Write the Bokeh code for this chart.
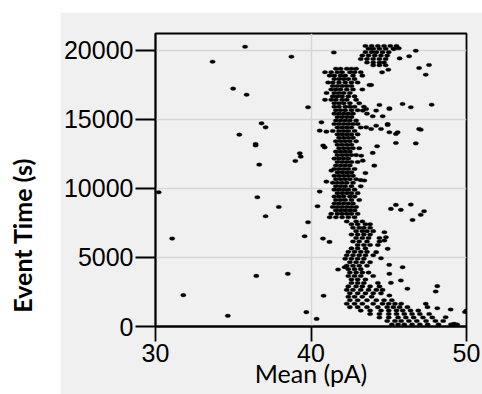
import math
from bokeh.plotting import figure
from bokeh.models import Range1d, FixedTicker, Label, Spacer
from bokeh.layouts import row, column
from bokeh.embed import file_html
from bokeh.resources import INLINE

# ---------------- data ----------------
x_ticks = [30, 40, 50]
y_ticks = [0, 5000, 10000, 15000, 20000]
x_label = "Mean (pA)"
y_label = "Event Time (s)"

# main column of events: (event time, [mean current values])
column_rows = [
    (18650, [41.6, 41.9, 42.3, 42.6, 42.9]),
    (18400, [40.9, 41.3, 41.7, 42.0, 42.5, 42.8, 43.2]),
    (18150, [41.2, 41.5, 41.9, 42.2, 42.7, 43.3]),
    (17900, [41.5, 41.8, 42.1, 42.4, 42.8]),
    (17650, [41.1, 41.4, 41.8, 42.2, 42.6, 43.0]),
    (17400, [41.4, 41.7, 42.0, 42.3, 42.6]),
    (17150, [41.3, 41.6, 41.9, 42.3, 42.7, 43.3]),
    (16900, [41.0, 41.5, 41.8, 42.1, 42.5]),
    (16650, [41.4, 41.7, 42.0, 42.4, 42.8]),
    (16400, [40.9, 41.3, 41.6, 42.0, 42.3, 42.9]),
    (16150, [41.5, 41.8, 42.1, 42.5, 43.1]),
    (15900, [41.5, 41.8, 42.2, 42.5, 42.8, 43.4]),
    (15650, [41.6, 41.9, 42.2, 42.6, 43.0]),
    (15400, [41.5, 41.8, 42.1, 42.4, 42.7, 43.6]),
    (15150, [41.7, 42.0, 42.3, 42.6]),
    (14900, [41.6, 41.9, 42.2, 42.5, 42.9]),
    (14650, [41.5, 41.8, 42.1, 42.4, 42.7, 43.0]),
    (14400, [41.7, 42.0, 42.3, 42.6, 43.2]),
    (14150, [41.4, 41.8, 42.1, 42.4, 42.8]),
    (13900, [41.7, 42.0, 42.3, 42.6, 43.0]),
    (13650, [41.8, 42.1, 42.4, 42.7]),
    (13400, [41.6, 41.9, 42.2, 42.5, 42.9]),
    (13150, [41.7, 42.0, 42.3, 42.6]),
    (12900, [41.8, 42.1, 42.4, 42.7, 43.1]),
    (12650, [41.6, 41.9, 42.2, 42.5]),
    (12400, [41.7, 42.0, 42.3, 42.6, 42.9]),
    (12150, [41.5, 41.8, 42.1, 42.4]),
    (11900, [41.7, 42.0, 42.3, 42.6, 43.0]),
    (11650, [41.6, 41.9, 42.2, 42.5]),
    (11400, [41.5, 41.8, 42.1, 42.4, 42.8]),
    (11150, [41.7, 42.0, 42.3, 42.6]),
    (10900, [41.5, 41.8, 42.1, 42.4, 42.7]),
    (10650, [41.6, 41.9, 42.2, 42.5, 42.9]),
    (10400, [41.4, 41.7, 42.0, 42.3, 42.7]),
    (10150, [41.6, 41.9, 42.2, 42.6, 43.2]),
    (9900, [41.5, 41.8, 42.1, 42.4, 42.8]),
    (9650, [41.7, 42.0, 42.3, 42.6, 43.0]),
    (9400, [41.5, 41.8, 42.1, 42.5, 42.8]),
    (9150, [41.6, 41.9, 42.2, 42.6, 43.1]),
    (8900, [41.5, 41.8, 42.1, 42.4, 42.7]),
    (8650, [41.4, 41.7, 42.0, 42.3, 42.6, 42.9]),
    (8400, [41.6, 41.9, 42.2, 42.5, 42.8]),
    (8150, [41.3, 41.7, 42.0, 42.3, 42.6, 43.0]),
    (7900, [41.2, 41.6, 42.0, 42.4, 42.8]),
]

# lower, drifting part of the trace
lower_rows = [
    (7600, [42.3, 42.9, 43.3]),
    (7400, [42.6, 43.0, 43.5, 43.8]),
    (7150, [42.7, 43.1, 43.4, 43.8]),
    (6900, [42.9, 43.3, 43.6, 44.0]),
    (6650, [42.6, 43.0, 43.4, 43.8]),
    (6400, [42.9, 43.3, 43.7, 44.4]),
    (6150, [42.7, 43.1, 43.6, 44.4]),
    (5900, [43.0, 43.4, 43.8, 44.3]),
    (5650, [42.6, 43.0, 43.5]),
    (5400, [42.4, 42.8, 43.2, 43.6]),
    (5150, [42.3, 42.7, 43.1, 43.5, 44.0]),
    (4900, [42.2, 42.6, 43.0, 43.4]),
    (4650, [42.5, 42.9, 43.3, 43.8]),
    (4400, [42.3, 42.7, 43.1, 43.6]),
    (4150, [42.4, 42.8, 43.2]),
    (3900, [42.5, 42.9, 43.3, 43.7]),
    (3650, [42.4, 42.8, 43.2, 44.0]),
    (3400, [42.6, 43.0, 43.5]),
    (3150, [42.6, 43.0, 43.4, 44.3]),
    (2900, [42.4, 42.9, 43.3, 43.8, 44.4]),
    (2650, [42.3, 42.7, 43.2, 43.7, 44.2, 44.6]),
    (2400, [42.5, 43.0, 43.5, 44.0, 44.5]),
    (2150, [42.4, 42.8, 43.3, 43.9]),
    (1900, [42.5, 43.0, 43.6, 44.2, 44.7, 45.2]),
    (1650, [42.3, 42.8, 43.3, 44.0, 44.6, 45.0, 45.4, 45.8]),
    (1400, [42.5, 43.0, 43.6, 44.3, 44.9, 45.3, 45.7, 46.2]),
    (1150, [43.2, 43.8, 44.5, 45.0, 45.5, 45.9, 46.4, 46.9]),
    (900, [43.8, 44.4, 45.0, 45.5, 46.0, 46.5, 47.0, 47.6]),
    (650, [44.4, 45.0, 45.6, 46.1, 46.6, 47.2, 47.8]),
    (400, [44.9, 45.4, 45.8, 46.3, 46.8, 47.4, 48.0, 48.5]),
    (150, [45.2, 45.6, 46.0, 46.5, 47.0, 47.5, 48.2, 49.0, 49.3]),
]

# cluster at the end of the recording
top_rows = [
    (20300, [43.5, 43.9, 44.3, 44.7, 45.1, 45.5]),
    (20100, [43.7, 44.0, 44.4, 44.8, 45.3]),
    (19850, [43.5, 43.9, 44.2, 44.6, 45.0]),
    (19600, [43.3, 43.7, 44.1, 44.5, 44.9]),
    (19350, [43.2, 43.6, 44.0, 44.4, 44.8]),
    (19100, [43.6, 44.0, 44.4, 44.7]),
    (18900, [44.0, 44.4, 44.8]),
]

# scattered single events
scatter_mean = [
    35.76, 33.67, 38.74, 41.47, 34.99, 35.86, 39.81, 36.82, 37.08, 35.39,
    36.44, 36.44, 39.28, 39.34, 38.99, 36.67, 30.21, 36.55, 37.93, 37.08,
    39.81, 31.07, 39.59, 40.77, 41.19, 36.48, 38.51, 31.79, 40.81, 34.65,
    39.70, 40.36, 50.26, 50.64, 50.00, 49.90,
    45.65, 45.34, 46.74, 45.70, 46.31, 46.95, 47.59, 47.38, 44.57, 44.97,
    43.76, 43.87, 44.40, 45.04, 45.89, 46.42, 47.76, 43.33, 43.55, 44.19,
    45.04, 43.97, 44.61, 44.93, 40.67, 40.56, 40.99, 40.78, 40.88,
    43.55, 43.87, 44.19, 44.50, 44.93, 45.04, 45.46, 45.57, 46.95, 47.06,
    45.46, 46.74, 44.25, 43.97, 43.23, 43.33, 44.07, 43.50, 43.20, 40.99,
    41.31, 40.56, 40.42, 43.43,
    45.14, 45.46, 45.78, 46.42, 47.27, 47.06, 46.53,
    44.72, 44.82, 44.72, 44.93, 44.19, 44.50, 41.74, 42.16, 45.89, 45.04,
    45.78, 45.14, 46.20, 45.04, 48.12, 48.02,
    47.38, 47.49, 48.12, 48.98, 48.66, 49.19, 49.40, 45.03,
]
scatter_time = [
    20240, 19160, 19520, 19830, 17210, 16770, 15860, 14700, 14410, 13880,
    13210, 13100, 12530, 12290, 11980, 11710, 9710, 9350, 8650, 7980,
    7540, 6360, 6530, 6360, 6120, 3660, 3810, 2270, 2220, 770,
    1040, 550, 14890, 3250, 1160, 1050,
    20130, 20080, 19950, 19400, 19550, 18700, 18920, 18220, 18390, 18580,
    17470, 17470, 16030, 15790, 16100, 15860, 16050, 15620, 15740, 15620,
    15740, 15210, 15210, 14650, 14770, 14170, 14100, 13090, 12960,
    14410, 14290, 14530, 14290, 14580, 14050, 13930, 14050, 14290, 14240,
    13280, 13250, 13040, 12560, 12360, 12000, 11640, 11100, 10590, 10480,
    11280, 9760, 8700, 10560,
    8510, 8800, 8440, 8820, 8340, 8080, 7710,
    6820, 6460, 6220, 5620, 5380, 4940, 4120, 4290, 4290, 3810,
    3330, 3160, 2730, 2240, 2920, 2530,
    1640, 1400, 1320, 1230, 670, 190, 140, 4460,
]

# ---------------- build point arrays ----------------
mean_pa = []
event_time = []
for rows in (column_rows, lower_rows, top_rows):
    for t, xs in rows:
        for xv in xs:
            mean_pa.append(xv)
            event_time.append(t)
mean_pa += scatter_mean
event_time += scatter_time

BG = "#f0f0f0"

# ---------------- main plot ----------------
p = figure(width=422, height=382, output_backend="svg", toolbar_location=None,
           title=None,
           x_range=Range1d(30, 50), y_range=Range1d(0, 21200),
           min_border_left=93, min_border_right=16, min_border_top=21,
           min_border_bottom=68)
p.background_fill_color = BG
p.border_fill_color = BG
p.outline_line_color = "black"
p.outline_line_width = 1.8

p.ellipse(x=mean_pa, y=event_time, width=5.5, height=3.6,
          width_units="screen", height_units="screen",
          fill_color="black", line_color="black", line_width=0.3)

for ax in (p.xaxis[0], p.yaxis[0]):
    ax.axis_line_color = "black"
    ax.axis_line_width = 1.8
    ax.major_tick_line_color = "black"
    ax.major_tick_line_width = 1.8
    ax.major_tick_in = 0
    ax.minor_tick_line_color = None
    ax.major_label_text_font = "Liberation Sans"
    ax.major_label_text_color = "black"

p.xaxis.ticker = FixedTicker(ticks=x_ticks)
p.yaxis.ticker = FixedTicker(ticks=y_ticks)
p.xaxis.major_tick_out = 15
p.yaxis.major_tick_out = 20
p.xaxis.major_label_text_font_size = "25px"
p.yaxis.major_label_text_font_size = "25px"
p.xaxis.major_label_standoff = 2
p.yaxis.major_label_standoff = 2

p.xaxis.axis_label = x_label
p.xaxis.axis_label_text_font = "Lato"
p.xaxis.axis_label_text_font_style = "normal"
p.xaxis.axis_label_text_font_size = "25px"
p.xaxis.axis_label_text_color = "black"
p.xaxis.axis_label_standoff = -7

p.xgrid.ticker = FixedTicker(ticks=x_ticks)
p.ygrid.ticker = FixedTicker(ticks=y_ticks)
p.grid.grid_line_color = "#d6d6d6"
p.grid.grid_line_width = 1.5

# ---------------- y label strip ----------------
lab = figure(width=60, height=394, output_backend="svg", toolbar_location=None,
             title=None,
             x_range=Range1d(0, 1), y_range=Range1d(0, 1),
             min_border=0, min_border_left=0, min_border_right=0,
             min_border_top=0, min_border_bottom=0)
lab.axis.visible = False
lab.grid.visible = False
lab.outline_line_color = None
lab.background_fill_color = "white"
lab.border_fill_color = "white"
lab.add_layout(Label(x=0.36, y=0.404, text=y_label, angle=math.pi / 2,
                     text_align="center", text_baseline="middle",
                     text_font="Lato", text_font_style="bold",
                     text_font_size="25px", text_color="black"))

layout = row(lab, column(Spacer(width=422, height=12), p))

open("out.html", "w").write(file_html(layout, INLINE))
